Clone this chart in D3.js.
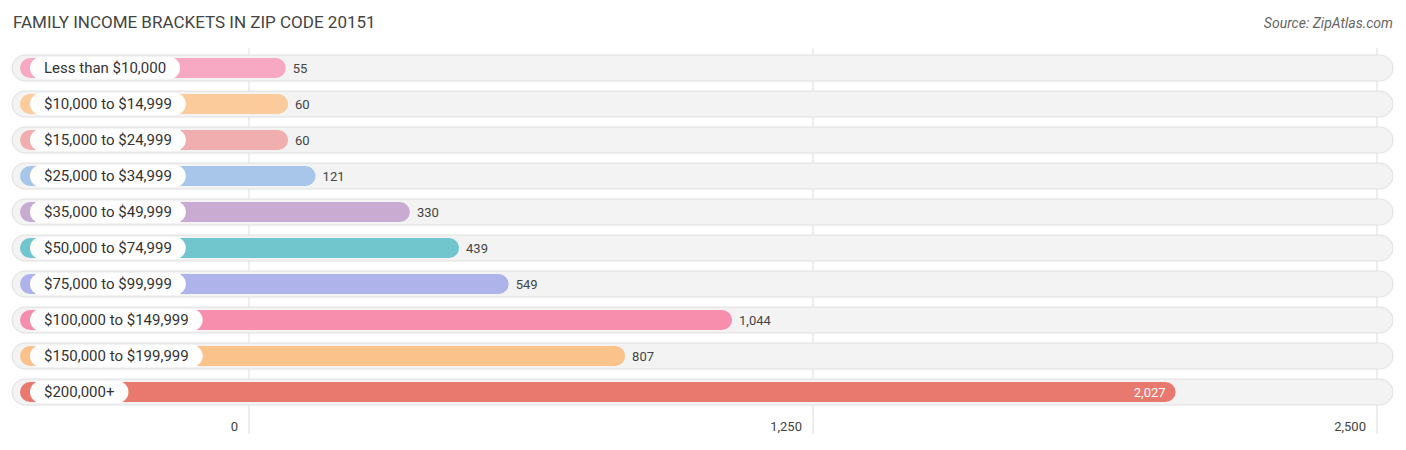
<!DOCTYPE html>
<html><head><meta charset="utf-8">
<script src="https://cdn.jsdelivr.net/npm/d3@7"></script>
<style>body{margin:0;background:#fff;font-family:Roboto,"Open Sans",sans-serif;}</style>
</head><body><svg id="chart" width="1406" height="450"></svg>
<script>
const categories = ["Less than $10,000","$10,000 to $14,999","$15,000 to $24,999","$25,000 to $34,999","$35,000 to $49,999","$50,000 to $74,999","$75,000 to $99,999","$100,000 to $149,999","$150,000 to $199,999","$200,000+"];
const values = [55,60,60,121,330,439,549,1044,807,2027];
const colors = ["#f7a8c3","#fbcb9c","#f0aeae","#a7c6ea","#c9abd1","#70c6cc","#aeb4ea","#f78eae","#fbc28b","#e9796f"];
const tickValues = [0,1250,2500];

const svg = d3.select("#chart");
const x = d3.scaleLinear().domain([0,2500]).range([249,1377]);
const y = d3.scaleBand().domain(categories).range([50,410]).padding(0);
const fmt = d3.format(",");

svg.append("text").attr("x",13).attr("y",28).attr("font-size",17).attr("fill","#444")
  .text("FAMILY INCOME BRACKETS IN ZIP CODE 20151");
svg.append("text").attr("x",1393).attr("y",28).attr("text-anchor","end").attr("font-size",14)
  .attr("font-style","italic").attr("fill","#666").text("Source: ZipAtlas.com");

// gridlines
svg.append("g").selectAll("line").data(tickValues).join("line")
  .attr("x1",d=>x(d)).attr("x2",d=>x(d)).attr("y1",48).attr("y2",434)
  .attr("stroke","#ddd");

const row = svg.append("g").selectAll("g").data(categories).join("g")
  .attr("transform",d=>`translate(0,${y(d)+y.bandwidth()/2})`);

row.append("rect").attr("x",12).attr("y",-13).attr("width",1381).attr("height",26).attr("rx",13)
  .attr("fill","#f3f3f3").attr("stroke","#e0e0e0");
row.append("rect").attr("x",20).attr("y",-10).attr("height",20).attr("rx",10)
  .attr("width",(d,i)=>x(values[i])+12-20).attr("fill",(d,i)=>colors[i]);

const lbl = row.append("text").attr("x",44).attr("y",5).attr("font-size",15).attr("fill","#333").text(d=>d);
lbl.each(function(){
  const w = this.getComputedTextLength();
  d3.select(this.parentNode).insert("rect","text").attr("x",30).attr("y",-11).attr("height",22).attr("rx",11)
    .attr("width",w+28).attr("fill","#fff");
});

row.append("text").attr("font-size",13).attr("y",5)
  .attr("x",(d,i)=>i===9 ? x(values[i])+2 : x(values[i])+19)
  .attr("text-anchor",(d,i)=>i===9?"end":"start")
  .attr("fill",(d,i)=>i===9?"#fff":"#444")
  .text((d,i)=>fmt(values[i]));

svg.append("g").selectAll("text").data(tickValues).join("text")
  .attr("x",d=>x(d)-11).attr("y",431).attr("text-anchor","end").attr("font-size",13).attr("fill","#444")
  .text(d=>fmt(d));
</script></body></html>
